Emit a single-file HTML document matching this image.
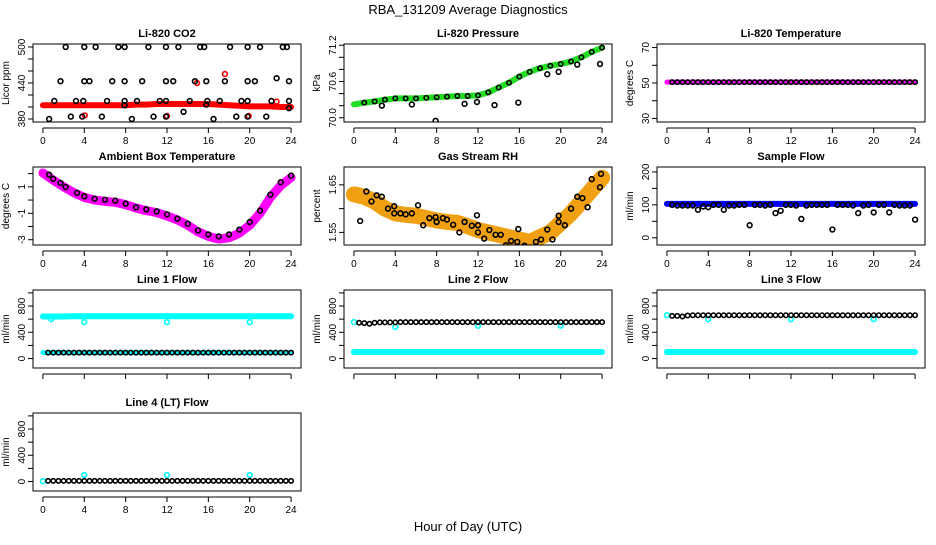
<!DOCTYPE html>
<html><head><meta charset="utf-8"><style>
html,body{margin:0;padding:0;background:#fff;}
svg text{font-family:"Liberation Sans",sans-serif;}
</style></head><body>
<svg id="chart" width="936" height="540" viewBox="0 0 936 540" xmlns="http://www.w3.org/2000/svg">
<text x="468" y="14" text-anchor="middle" font-size="13">RBA_131209  Average Diagnostics</text>
<text x="468" y="531" text-anchor="middle" font-size="13">Hour of Day (UTC)</text>
</svg>
<script>
// ---- shared data ----
const halfHours=[0.5,1,1.5,2,2.5,3,3.5,4,4.5,5,5.5,6,6.5,7,7.5,8,8.5,9,9.5,10,10.5,11,11.5,12,12.5,13,13.5,14,14.5,15,15.5,16,16.5,17,17.5,18,18.5,19,19.5,20,20.5,21,21.5,22,22.5,23,23.5,24];
const hours=[0,1,2,3,4,5,6,7,8,9,10,11,12,13,14,15,16,17,18,19,20,21,22,23,24];
const xTicks=[0,4,8,12,16,20,24];
// CO2
const co2Band=[403,403,403,403,403,403,403,403,403,404,404,405,405,405,405,405,405,404,403,402,401,401,401,400,400];
const co2Hours=[2.2,4.0,5.1,7.3,7.9,10.2,11.9,13.1,15.2,15.6,18.1,19.8,21.0,23.2,23.6,1.7,4.0,4.5,6.7,7.9,9.6,11.9,12.6,14.7,15.8,17.6,19.8,20.5,22.6,23.8,1.1,3.2,3.9,6.2,7.9,9.1,11.3,11.9,14.2,15.9,17.1,19.2,19.8,22.1,23.8,2.7,3.8,5.7,10.7,11.9,18.7,19.8,21.6,13.6,0.6,8.6,16.5,7.9,15.8,23.8];
const co2Vals=[500,500,500,500,500,500,500,500,500,500,500,500,500,500,500,443,443,443,443,443,443,443,443,443,443,443,443,443,448,443,410,410,410,410,410,410,410,410,410,410,410,410,410,410,410,384,384,384,384,384,384,384,384,392,380,380,380,403,404,398];
const co2RedHours=[4.05,14.9,17.6,22.6,12.0,19.9];
const co2RedVals=[386,440,455,409,385,385];
// Pressure
const presBand=[70.22,70.25,70.27,70.30,70.32,70.32,70.32,70.33,70.34,70.35,70.36,70.36,70.37,70.42,70.50,70.58,70.68,70.76,70.82,70.86,70.89,70.93,71.00,71.09,71.16];
const presOutHours=[2.7,5.6,7.9,10.7,11.9,13.6,15.9,18.7,19.8,21.6,23.8];
const presOutVals=[70.2,70.22,69.95,70.23,70.26,70.21,70.25,70.72,70.76,70.88,70.89];
// Temperature
const tempBand=[50.5,50.5,50.5,50.5,50.5,50.5,50.5,50.5,50.5,50.5,50.5,50.5,50.5,50.5,50.5,50.5,50.5,50.5,50.5,50.5,50.5,50.5,50.5,50.5,50.5];
// Ambient
const ambHours=[0.6,1,1.7,2.2,3.3,4,5,6,7,8,9,10,11,12,13,14,15,16,17,18,19,20,21,22,23,24];
const ambVals=[1.92,1.6,1.29,0.99,0.54,0.28,0.1,0.02,-0.05,-0.27,-0.55,-0.7,-0.86,-1.08,-1.41,-1.79,-2.3,-2.6,-2.75,-2.6,-2.24,-1.66,-0.8,0.41,1.35,1.85];
const ambBand=[2.05,1.5,1.0,0.55,0.2,0.0,-0.1,-0.17,-0.35,-0.6,-0.8,-0.95,-1.2,-1.5,-1.9,-2.4,-2.75,-2.95,-2.85,-2.5,-1.9,-1.0,0.2,1.1,1.7];
// RH
const rhBand=[1.63,1.625,1.615,1.6,1.59,1.587,1.585,1.58,1.575,1.572,1.57,1.563,1.555,1.55,1.545,1.54,1.535,1.53,1.54,1.55,1.57,1.59,1.615,1.64,1.665];
const rhHours=[0.6,1.2,1.7,2.2,2.7,3.3,3.9,3.9,4.5,5,5.6,6.2,6.7,7.3,7.9,8,8.6,9,9.6,10.2,10.7,11.4,11.9,12,12,12.6,13.1,13.7,14.2,14.7,15.2,15.8,15.9,16.5,17,17.6,18.1,18.7,19.2,19.8,19.8,20.4,21,21.6,22.1,22.6,23,23.8,23.9];
const rhVals=[1.574,1.636,1.615,1.628,1.625,1.6,1.605,1.59,1.59,1.588,1.59,1.607,1.565,1.58,1.582,1.572,1.58,1.577,1.566,1.55,1.572,1.564,1.586,1.565,1.55,1.537,1.555,1.545,1.545,1.523,1.532,1.53,1.557,1.522,1.515,1.53,1.535,1.556,1.535,1.585,1.572,1.565,1.6,1.625,1.622,1.603,1.662,1.645,1.673];
// Sample flow
const sfBand=[103,103,103,103,103,103,103,103,103,103,103,103,103,103,103,103,103,103,103,103,103,103,103,103,103];
const sfVals=[100,98,98,98,98,85,95,93,100,100,85,98,98,100,100,38,100,100,98,100,75,82,100,100,98,57,98,100,100,100,100,25,100,100,100,98,75,98,100,77,100,100,77,100,98,98,98,55];
// Line flows
const l1Band=[640,640,640,645,645,645,645,645,645,645,645,645,645,645,645,645,645,645,645,645,645,645,645,645,645];
const l1Low=[90,90,90,90,90,90,90,90,90,90,90,90,90,90,90,90,90,90,90,90,90,90,90,90,90];
const l1Vals=[90,90,90,90,90,90,90,90,90,90,90,90,90,90,90,90,90,90,90,90,90,90,90,90,90,90,90,90,90,90,90,90,90,90,90,90,90,90,90,90,90,90,90,90,90,90,90,90];
const l1DipHours=[0.8,4,12,20];
const l1DipVals=[600,555,555,555];
const l2Band=[100,100,100,100,100,100,100,100,100,100,100,100,100,100,100,100,100,100,100,100,100,100,100,100,100];
const l2Vals=[545,540,530,545,550,550,550,550,555,555,555,555,555,555,555,555,555,555,555,555,555,555,555,555,555,555,555,555,555,555,555,555,555,555,555,555,555,555,555,555,555,555,555,555,555,555,555,555];
const l2DipHours=[0,4,12,20];
const l2DipVals=[555,480,500,500];
const l3Band=[100,100,100,100,100,100,100,100,100,100,100,100,100,100,100,100,100,100,100,100,100,100,100,100,100];
const l3Vals=[650,650,640,655,660,660,660,660,660,660,660,660,660,660,660,660,660,660,660,660,660,660,660,660,660,660,660,660,660,660,660,660,660,660,660,660,660,660,660,660,660,660,660,660,660,660,660,660];
const l3DipHours=[0,4,12,20];
const l3DipVals=[660,600,600,600];
const l4Vals=[10,10,10,10,10,10,10,10,10,10,10,10,10,10,10,10,10,10,10,10,10,10,10,10,10,10,10,10,10,10,10,10,10,10,10,10,10,10,10,10,10,10,10,10,10,10,10,10];
const l4SpikeHours=[0,4,12,20];
const l4SpikeVals=[5,100,100,100];

const NS='http://www.w3.org/2000/svg';
const svg=document.getElementById('chart');
const colX=[33,344,657], rowY=[44,167,290,413];
function mk(tag,attrs,parent){const e=document.createElementNS(NS,tag);for(const k in attrs)e.setAttribute(k,attrs[k]);(parent||svg).appendChild(e);return e;}

function panel(col,row,name,title,ylab,ymin,ymax,ticks,labels){
  const g=mk('g',{});
  
  
  const x0=colX[col],x1=x0+268,y0=rowY[row],y1=y0+78;
  const sx=v=>x0+(v+0.96)/25.92*268;
  const sy=v=>y1-(v-ymin)/(ymax-ymin)*78;
  const t=mk('text',{x:(x0+x1)/2,y:y0-7,'text-anchor':'middle','font-size':'11','font-weight':'bold'},g);
  t.textContent=title;
  
  
  const yl=mk('text',{transform:`translate(${x0-24},${(y0+y1)/2}) rotate(-90)`,'text-anchor':'middle','font-size':'10'},g);
  yl.textContent=ylab;
  
  
  ticks.forEach(v=>{const y=sy(v);mk('line',{x1:x0-5,x2:x0,y1:y,y2:y,stroke:'#000'},g);});
  labels.forEach(v=>{const tl=mk('text',{transform:`translate(${x0-8},${sy(v)}) rotate(-90)`,'text-anchor':'middle','font-size':'10'},g);tl.textContent=String(v);
    
    });
  mk('line',{x1:x0,x2:x0,y1:sy(ticks[0]),y2:sy(ticks[ticks.length-1]),stroke:'#000'},g);
  mk('line',{x1:sx(0),x2:sx(24),y1:y1+6,y2:y1+6,stroke:'#000'},g);
  xTicks.forEach(v=>{mk('line',{x1:sx(v),x2:sx(v),y1:y1+6,y2:y1+11,stroke:'#000'},g);
    if(row!==2){const tl=mk('text',{x:sx(v),y:y1+22,'text-anchor':'middle','font-size':'10'},g);tl.textContent=String(v);
    
    }});
  const plot=mk('g',{},g);
  const cp='cp'+col+row;
  const c=mk('clipPath',{id:cp},g);mk('rect',{x:x0,y:y0,width:268,height:78},c);
  plot.setAttribute('clip-path',`url(#${cp})`);
  mk('rect',{x:x0,y:y0,width:268,height:78,fill:'none',stroke:'#000'},g);
  return {sx,sy,plot};
}
function band(p,xs,ys,color,w,name){
  const pts=xs.map((h,i)=>p.sx(h)+','+p.sy(ys[i])).join(' ');
  const e=mk('polyline',{points:pts,fill:'none',stroke:color,'stroke-width':w,'stroke-linejoin':'round','stroke-linecap':'round'},p.plot);
  
  
}
function pts(p,xs,ys,color,name,r){
  xs.forEach((h,i)=>{const e=mk('circle',{cx:p.sx(h),cy:p.sy(ys[i]),r:r||2.4,fill:'none',stroke:color,'stroke-width':1.6},p.plot);
    
    });
}
let p;
p=panel(0,0,'co2-panel','Li-820 CO2','Licor ppm',375,505,[380,400,420,440,460,480,500],[380,440,500]);
band(p,hours,co2Band,'#ff0000',6,'co2-band');pts(p,co2RedHours,co2RedVals,'#ff0000','co2-red-point');pts(p,co2Hours,co2Vals,'#000','co2-point');

p=panel(1,0,'pressure-panel','Li-820 Pressure','kPa',69.93,71.22,[70.0,70.2,70.4,70.6,70.8,71.0,71.2],['70.0','70.6','71.2']);
band(p,hours,presBand,'#22dd22',6,'pressure-band');
pts(p,hours.slice(1),presBand.slice(1),'#000','pressure-point',2.2);pts(p,presOutHours,presOutVals,'#000','pressure-outlier');

p=panel(2,0,'temperature-panel','Li-820 Temperature','degrees C',28,72,[30,40,50,60,70],[30,50,70]);
band(p,hours,tempBand,'#ff00ff',5,'temperature-band');pts(p,halfHours,halfHours.map((h,i)=>tempBand[0]),'#000','temperature-point',2.2);

p=panel(0,1,'ambient-panel','Ambient Box Temperature','degrees C',-3.4,2.5,[-3,-2,-1,0,1,2],[-3,-1,1]);
band(p,hours,ambBand,'#ff00ff',9,'ambient-band');pts(p,ambHours,ambVals,'#000','ambient-point');

p=panel(1,1,'rh-panel','Gas Stream RH','percent',1.5235,1.6875,[1.55,1.60,1.65],['1.55','1.65']);
band(p,hours,rhBand,'#f0a010',16,'rh-band');pts(p,rhHours,rhVals,'#000','rh-point');

p=panel(2,1,'sample-flow-panel','Sample Flow','ml/min',-22,215,[0,50,100,150,200],[0,100,200]);
band(p,hours,sfBand,'#0000ff',6,'sample-flow-band');pts(p,halfHours,sfVals,'#000','sample-flow-point');

const fT=[0,200,400,600,800,1000],fL=[0,400,800];
p=panel(0,2,'line1-panel','Line 1 Flow','ml/min',-144,1044,fT,fL);
band(p,hours,l1Band,'#00ffff',6,'line1-high-band');band(p,hours,l1Low,'#00ffff',5,'line1-low-band');
pts(p,l1DipHours,l1DipVals,'#00ffff','line1-dip');pts(p,halfHours,l1Vals,'#000','line1-point',2.2);

p=panel(1,2,'line2-panel','Line 2 Flow','ml/min',-144,1044,fT,fL);
band(p,hours,l2Band,'#00ffff',6,'line2-band');pts(p,l2DipHours,l2DipVals,'#00ffff','line2-dip');pts(p,halfHours,l2Vals,'#000','line2-point',2.2);

p=panel(2,2,'line3-panel','Line 3 Flow','ml/min',-144,1044,fT,fL);
band(p,hours,l3Band,'#00ffff',6,'line3-band');pts(p,l3DipHours,l3DipVals,'#00ffff','line3-dip');pts(p,halfHours,l3Vals,'#000','line3-point',2.2);

p=panel(0,3,'line4-panel','Line 4 (LT) Flow','ml/min',-144,1044,fT,fL);
pts(p,l4SpikeHours,l4SpikeVals,'#00ffff','line4-spike');pts(p,halfHours,l4Vals,'#000','line4-point',2.2);
</script>
</body></html>
